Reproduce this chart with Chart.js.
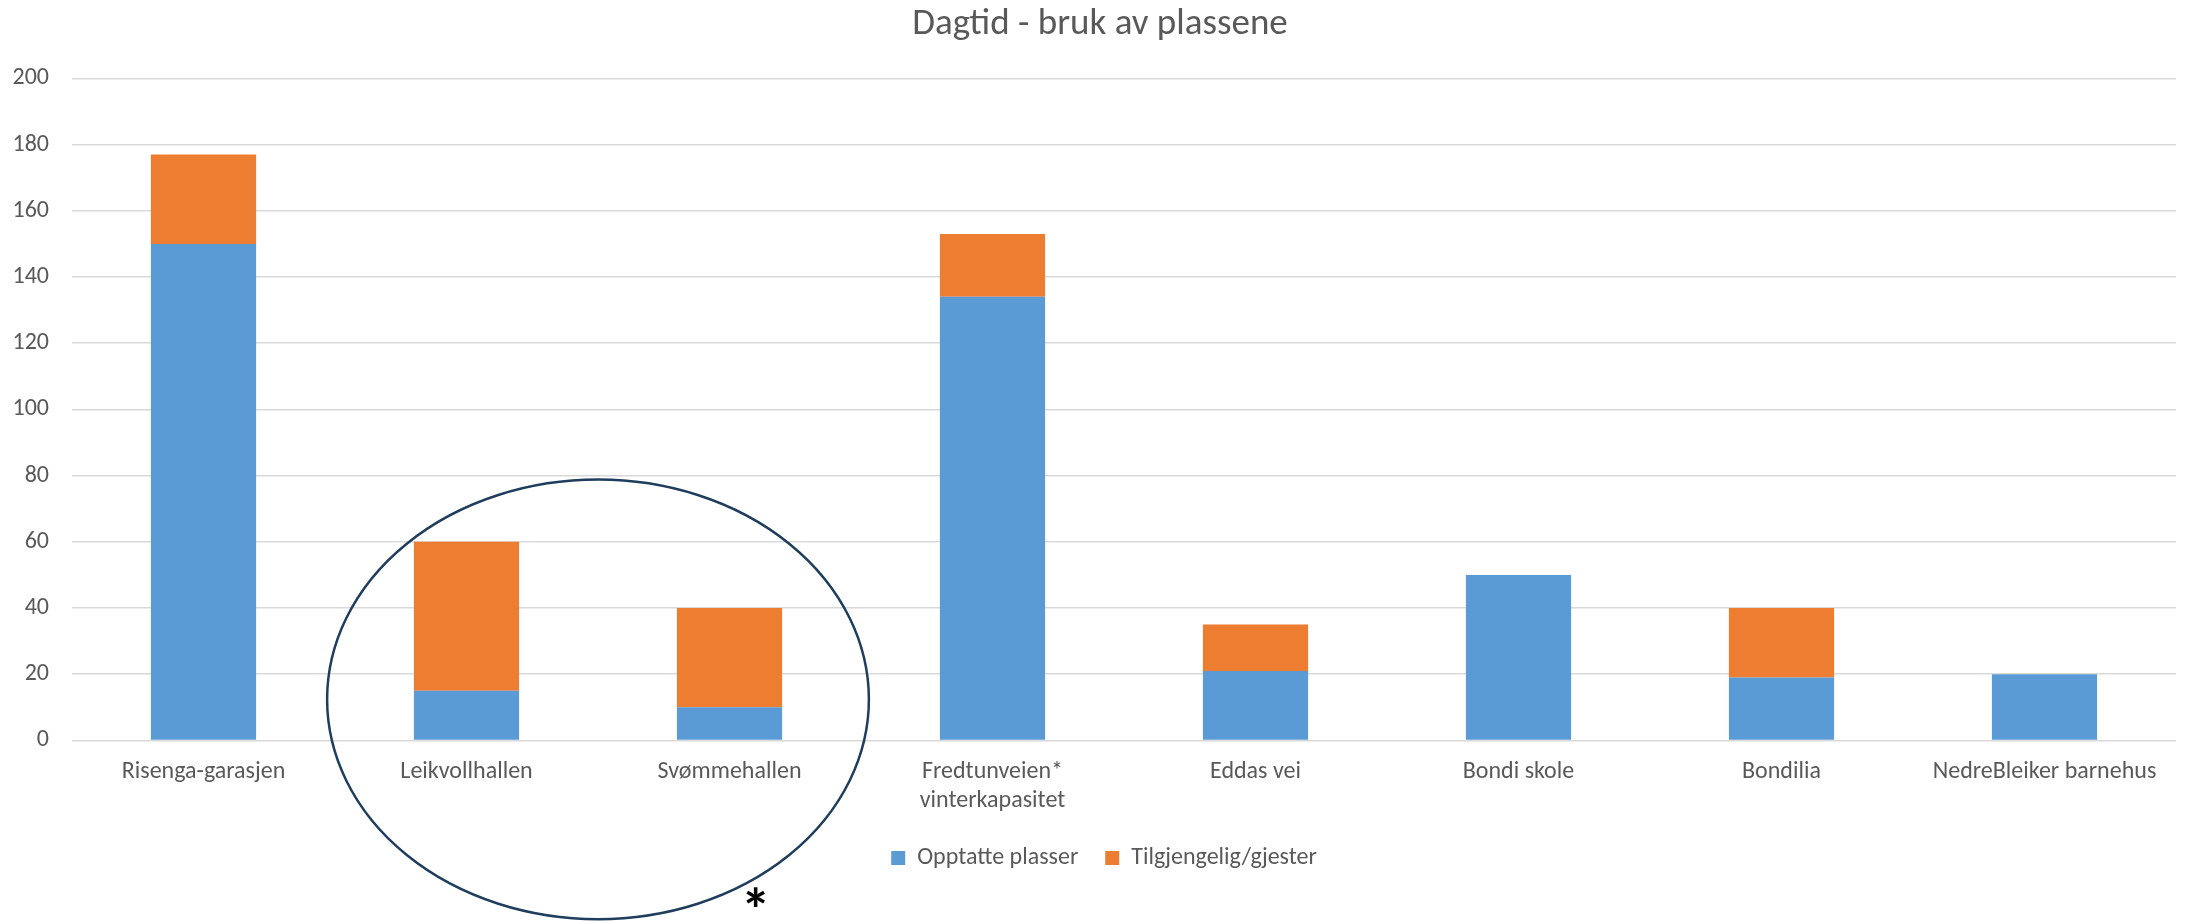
<!DOCTYPE html>
<html lang="no">
<head>
    <meta charset="UTF-8">
    <title>Dagtid - bruk av plassene</title>
    <script src="https://cdn.jsdelivr.net/npm/chart.js"></script>
    <style>
        html, body {
            margin: 0;
            padding: 0;
            background: #fff;
        }
        .wrap {
            width: 2186px;
            height: 921px;
            position: relative;
        }
    </style>
</head>
<body>
    <div class="wrap">
        <canvas id="plassChart"></canvas>
    </div>

    <script>
        // Plassene langs x-aksen
        const steder = [
            'Risenga-garasjen',
            'Leikvollhallen',
            'Svømmehallen',
            ['Fredtunveien*', 'vinterkapasitet'],
            'Eddas vei',
            'Bondi skole',
            'Bondilia',
            'NedreBleiker barnehus'
        ];
        // Opptatte plasser på dagtid
        const opptatte = [150, 15, 10, 134, 21, 50, 19, 20];
        // Ledige plasser (tilgjengelig for gjester)
        const tilgjengelig = [27, 45, 30, 19, 14, 0, 21, 0];
        // Verdiakse
        const yTicks = [0, 20, 40, 60, 80, 100, 120, 140, 160, 180, 200];

        const fontFamily = 'Carlito, Lato, "Open Sans", sans-serif';
        const textColor = '#595959';

        // Flytter tittel og forklaring litt mot høyre (midt over plottet)
        const shiftPlugin = {
            id: 'shift',
            afterLayout(chart) {
                const moves = [[chart.legend, 16], [chart.titleBlock, 12]];
                moves.forEach(([box, dx]) => {
                    if (!box) return;
                    box.left += dx;
                    box.right += dx;
                });
            }
        };

        // Ring rundt hallene + stjerne under (tegnes oppå grafen)
        const ringPlugin = {
            id: 'ring',
            afterDraw(chart) {
                const { ctx, scales: { x, y } } = chart;
                const x1 = x.getPixelForValue(1);
                const x2 = x.getPixelForValue(2);
                const step = x2 - x1;
                const cx = (x1 + x2) / 2;
                const cy = y.getPixelForValue(12.4);
                const rx = step * 1.03;
                const ry = y.getPixelForValue(0) - y.getPixelForValue(66.4);

                ctx.save();
                ctx.beginPath();
                ctx.ellipse(cx, cy, rx, ry, 0, 0, Math.PI * 2);
                ctx.strokeStyle = '#1f3d5c';
                ctx.lineWidth = 2.5;
                ctx.stroke();

                ctx.fillStyle = '#000';
                ctx.font = 'bold 60px ' + fontFamily;
                ctx.textAlign = 'center';
                ctx.textBaseline = 'middle';
                ctx.fillText('*', cx + step * 0.6, y.getPixelForValue(-53));
                ctx.restore();
            }
        };

        const ctx = document.getElementById('plassChart').getContext('2d');
        const plassChart = new Chart(ctx, {
            type: 'bar',
            data: {
                labels: steder,
                datasets: [{
                    label: 'Opptatte plasser',
                    data: opptatte,
                    backgroundColor: '#5b9bd5',
                    borderWidth: 0
                }, {
                    label: 'Tilgjengelig/gjester',
                    data: tilgjengelig,
                    backgroundColor: '#ed7d31',
                    borderWidth: 0
                }]
            },
            options: {
                responsive: true,
                maintainAspectRatio: false,
                animation: false,
                layout: {
                    padding: { left: 0, right: 10, top: 0, bottom: 41 }
                },
                datasets: {
                    bar: {
                        barPercentage: 0.4,
                        categoryPercentage: 1
                    }
                },
                plugins: {
                    title: {
                        display: true,
                        text: 'Dagtid - bruk av plassene',
                        color: textColor,
                        font: { family: fontFamily, size: 37, weight: 'normal' },
                        padding: { top: 3, bottom: 31 }
                    },
                    legend: {
                        position: 'bottom',
                        labels: {
                            color: textColor,
                            font: { family: fontFamily, size: 24 },
                            boxWidth: 14,
                            boxHeight: 14,
                            padding: 27
                        }
                    },
                    tooltip: { enabled: false }
                },
                scales: {
                    x: {
                        stacked: true,
                        grid: { display: false, drawTicks: false },
                        border: { display: false },
                        afterFit(scale) {
                            // legg forklaringen tettere inntil aksen
                            scale.height -= 14;
                        },
                        ticks: {
                            color: textColor,
                            font: { family: fontFamily, size: 24 },
                            padding: 17.5,
                            maxRotation: 0,
                            autoSkip: false
                        }
                    },
                    y: {
                        stacked: true,
                        min: 0,
                        max: 200,
                        afterBuildTicks(scale) {
                            scale.ticks = yTicks.map(v => ({ value: v }));
                        },
                        afterFit(scale) {
                            scale.width = 72;
                        },
                        grid: {
                            color: '#d9d9d9',
                            lineWidth: 1.5,
                            drawTicks: false
                        },
                        border: { display: false },
                        ticks: {
                            color: textColor,
                            font: { family: fontFamily, size: 24 },
                            padding: 23
                        }
                    }
                }
            },
            plugins: [shiftPlugin, ringPlugin]
        });
    </script>
</body>
</html>
